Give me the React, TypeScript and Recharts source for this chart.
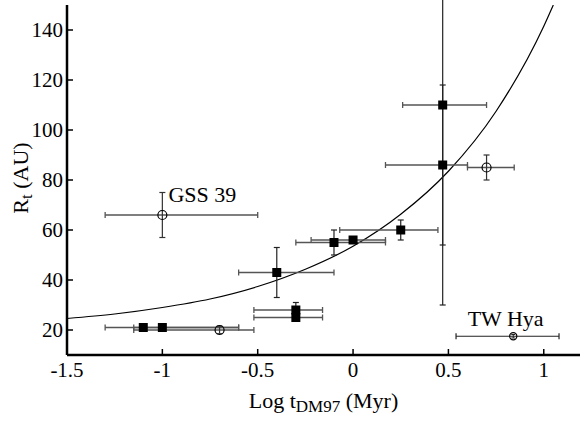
import { ComposedChart, Scatter, Line, XAxis, YAxis, ErrorBar, ReferenceDot } from "recharts";

const FONT = "'Liberation Serif', 'DejaVu Serif', 'Times New Roman', serif";

// filled squares: log age, truncation radius (AU), error ranges
const sqX = [-1.1, -1.0, -0.4, -0.3, -0.3, -0.1, 0.0, 0.25, 0.47, 0.47];
const sqR = [21, 21, 43, 28, 25, 55, 56, 60, 110, 86];
const sqXLo = [-1.3, -1.15, -0.6, -0.52, -0.52, -0.3, -0.22, -0.07, 0.26, 0.17];
const sqXHi = [-0.6, -0.6, -0.1, -0.16, -0.16, 0.17, 0.17, 0.445, 0.7, 0.6];
const sqRLo = [20, 20, 33, 26, 23.5, 50, 55, 56, 30, 54];
const sqRHi = [22, 22, 53, 31, 26, 60, 57, 64, 190, 118];

// open circles
const ocX = [-1.0, -0.7, 0.7];
const ocR = [66, 20, 85];
const ocXLo = [-1.3, -1.15, 0.6];
const ocXHi = [-0.5, -0.52, 0.845];
const ocRLo = [57, 18.5, 80];
const ocRHi = [75, 21.5, 90];

// TW Hya
const twX = [0.84];
const twR = [17.5];
const twXLo = [0.54];
const twXHi = [1.08];
const twRLo = [16.8];
const twRHi = [18.2];

// fitted curve
const curveX = [-1.5, -1.25, -1.0, -0.75, -0.5, -0.25, 0.0, 0.25, 0.5, 0.75, 1.0, 1.05];
const curveR = [24.6, 26.4, 29, 32.4, 37.4, 44.3, 53.5, 66.3, 83.5, 107.5, 141.5, 150];

const xTicks = [-1.5, -1, -0.5, 0, 0.5, 1];
const yTicks = [20, 40, 60, 80, 100, 120, 140];

const toPoints = (xs: number[], rs: number[], xlo: number[], xhi: number[], rlo: number[], rhi: number[]) =>
  xs.map((x, i) => ({
    x,
    y: rs[i],
    ex: [x - xlo[i], xhi[i] - x],
    ey: [rs[i] - rlo[i], rhi[i] - rs[i]],
  }));

const squares = toPoints(sqX, sqR, sqXLo, sqXHi, sqRLo, sqRHi);
const circles = toPoints(ocX, ocR, ocXLo, ocXHi, ocRLo, ocRHi);
const twHya = toPoints(twX, twR, twXLo, twXHi, twRLo, twRHi);
const curve = curveX.map((x, i) => ({ x, y: curveR[i] }));

const Square = (p: any) => <rect x={p.cx - 4.5} y={p.cy - 4.5} width={9} height={9} fill="#000" />;
const OpenCircle = (p: any) => <circle cx={p.cx} cy={p.cy} r={4.5} fill="none" stroke="#000" strokeWidth={1.2} />;
const SmallCircle = (p: any) => <circle cx={p.cx} cy={p.cy} r={3.6} fill="none" stroke="#000" strokeWidth={1.2} />;

const txt = { fontFamily: FONT, fill: "#000" };

const BottomTick = ({ x, y, payload }: any) => (
  <g>
    <line x1={x} x2={x} y1={y} y2={y - 6} stroke="#000" strokeWidth={1.5} />
    <text x={x} y={y + 22} textAnchor="middle" fontSize={21} style={txt}>
      {String(payload.value)}
    </text>
  </g>
);
const LeftTick = ({ x, y, payload }: any) => (
  <g>
    <line x1={x} x2={x + 6} y1={y} y2={y} stroke="#000" strokeWidth={1.5} />
    <text x={x - 4} y={y + 7} textAnchor="end" fontSize={21} style={txt}>
      {String(payload.value)}
    </text>
  </g>
);
const TopTick = ({ x, y }: any) => <line x1={x} x2={x} y1={y} y2={y + 6} stroke="#000" strokeWidth={1.5} />;
const RightTick = ({ x, y }: any) => <line x1={x} x2={x - 6} y1={y} y2={y} stroke="#000" strokeWidth={1.5} />;

const XTitle = ({ viewBox }: any) => (
  <text x={viewBox.x + viewBox.width / 2} y={viewBox.y + 53} textAnchor="middle" fontSize={22} style={txt}>
    Log t
    <tspan fontSize={17} dy={4}>DM97</tspan>
    <tspan dy={-4}> (Myr)</tspan>
  </text>
);
const YTitle = ({ viewBox }: any) => {
  const cx = 28;
  const cy = viewBox.y + viewBox.height / 2 - 2;
  return (
    <text x={cx} y={cy} textAnchor="middle" fontSize={22} style={txt} transform={`rotate(-90, ${cx}, ${cy})`}>
      R
      <tspan fontSize={17} dy={4}>t</tspan>
      <tspan dy={-4}> (AU)</tspan>
    </text>
  );
};

const Annot = ({ viewBox, value }: any) => (
  <text x={viewBox.x} y={viewBox.y + 7} textAnchor="middle" fontSize={22} style={txt}>
    {value}
  </text>
);

const axisLine = { stroke: "#000", strokeWidth: 2.5 };

export default function App() {
  return (
    <div style={{ position: "absolute", left: 0, top: 0, background: "#fff" }}>
      <ComposedChart width={581} height={424} margin={{ top: 5, right: 1, left: 0, bottom: 0 }}>
        <XAxis
          dataKey="x"
          type="number"
          domain={[-1.5, 1.19]}
          allowDataOverflow
          ticks={xTicks}
          interval={0}
          height={69}
          tickSize={0}
          tickMargin={0}
          tickLine={false}
          axisLine={axisLine}
          tick={<BottomTick />}
          label={{ content: <XTitle /> }}
        />
        <XAxis
          xAxisId="top"
          orientation="top"
          type="number"
          domain={[-1.5, 1.19]}
          allowDataOverflow
          ticks={xTicks}
          interval={0}
          height={0}
          tickSize={0}
          tickMargin={0}
          tickLine={false}
          axisLine={axisLine}
          tick={<TopTick />}
        />
        <YAxis
          dataKey="y"
          type="number"
          domain={[10, 150]}
          allowDataOverflow
          ticks={yTicks}
          interval={0}
          width={67}
          tickSize={0}
          tickMargin={0}
          tickLine={false}
          axisLine={axisLine}
          tick={<LeftTick />}
          label={{ content: <YTitle /> }}
        />
        <YAxis
          yAxisId="right"
          orientation="right"
          type="number"
          domain={[10, 150]}
          allowDataOverflow
          ticks={yTicks}
          interval={0}
          width={0}
          tickSize={0}
          tickMargin={0}
          tickLine={false}
          axisLine={axisLine}
          tick={<RightTick />}
        />
        <Line data={curve} dataKey="y" type="monotone" stroke="#000" strokeWidth={1.2} dot={false} isAnimationActive={false} />
        <Scatter data={squares} dataKey="y" shape={Square} isAnimationActive={false}>
          <ErrorBar dataKey="ex" direction="x" width={3} stroke="#555" strokeWidth={1.3} />
          <ErrorBar dataKey="ey" direction="y" width={3} stroke="#222" strokeWidth={1.2} />
        </Scatter>
        <Scatter data={circles} dataKey="y" shape={OpenCircle} isAnimationActive={false}>
          <ErrorBar dataKey="ex" direction="x" width={3} stroke="#555" strokeWidth={1.3} />
          <ErrorBar dataKey="ey" direction="y" width={3} stroke="#333" strokeWidth={1.2} />
        </Scatter>
        <Scatter data={twHya} dataKey="y" shape={SmallCircle} isAnimationActive={false}>
          <ErrorBar dataKey="ex" direction="x" width={3} stroke="#222" strokeWidth={1.2} />
          <ErrorBar dataKey="ey" direction="y" width={2} stroke="#222" strokeWidth={1} />
        </Scatter>
        <ReferenceDot x={-0.79} y={74} r={0} stroke="none" label={{ value: "GSS 39", content: <Annot /> }} />
        <ReferenceDot x={0.8} y={24.5} r={0} stroke="none" label={{ value: "TW Hya", content: <Annot /> }} />
      </ComposedChart>
    </div>
  );
}
